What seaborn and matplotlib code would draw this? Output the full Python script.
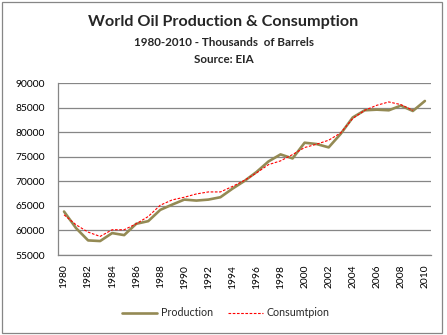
import numpy as np
import pandas as pd
import matplotlib
matplotlib.use("Agg")
import matplotlib.pyplot as plt
import seaborn as sns
from matplotlib.patches import Rectangle

# World oil production and consumption, thousands of barrels per day
years = list(range(1980, 2011))
production = [63850, 60470, 57970, 57840, 59460, 59050, 61350, 61890, 64190, 65270,
              66280, 66080, 66280, 66760, 68500, 70070, 71900, 74050, 75480, 74660,
              77860, 77590, 76910, 79660, 83000, 84460, 84590, 84460, 85410, 84320,
              86360]
consumption_years = list(range(1980, 2010))
consumption = [63180, 61150, 59660, 58780, 60140, 60140, 61350, 62840, 65140, 66220,
               66760, 67430, 67840, 67840, 68950, 70200, 71700, 73400, 74160, 75450,
               76880, 77560, 78370, 79860, 82790, 84460, 85480, 86160, 85620, 84460]

prod_df = pd.DataFrame({"year": years, "value": production})
cons_df = pd.DataFrame({"year": consumption_years, "value": consumption})

sns.set_style("white")
plt.rcParams["font.family"] = ["Lato", "DejaVu Sans"]

fig = plt.figure(figsize=(4.47, 3.35), dpi=100)
ax = fig.add_axes([0.1298, 0.2388, 0.8342, 0.5132])

grid_color = "#868686"

sns.lineplot(data=prod_df, x="year", y="value", ax=ax, color="#948A54",
             linewidth=1.9, label="Production")
sns.lineplot(data=cons_df, x="year", y="value", ax=ax, color="#FF0000",
             linewidth=0.8, dashes=False, label="Consumtpion")
ax.lines[1].set_dashes([2.4, 1.4])

ax.set_xlim(1979.5, 2010.5)
ax.set_ylim(55000, 90000)
ax.set_yticks(np.arange(55000, 90001, 5000))
ax.set_yticklabels([str(v) for v in range(55000, 90001, 5000)], fontsize=7.4)
ax.set_xticks(years[::2])
ax.set_xticklabels([str(y) for y in years[::2]], rotation=90, fontsize=7.4)
ax.set_xlabel("")
ax.set_ylabel("")

ax.yaxis.grid(True, color=grid_color, linewidth=0.9)
ax.set_axisbelow(True)
for side in ("top", "right"):
    ax.spines[side].set_visible(False)
ax.spines["left"].set_color(grid_color)
ax.spines["bottom"].set_color(grid_color)
ax.spines["left"].set_linewidth(0.9)
ax.spines["bottom"].set_linewidth(0.9)
ax.tick_params(axis="y", length=0, pad=9.5, colors="black")
ax.tick_params(axis="x", length=0, pad=7, colors="black")

ax.legend_.remove()
handles, labels = ax.get_legend_handles_labels()
handles[1].set_dashes([2.4, 1.4])
fig.legend(handles, labels, loc="center", bbox_to_anchor=(0.505, 0.066), ncol=2,
           frameon=False, fontsize=7.7, handlelength=3.3, columnspacing=1.4,
           handletextpad=0.3)

fig.text(0.5, 0.934, "World Oil Production & Consumption", ha="center", va="center",
         fontsize=11.6, fontweight="bold")
fig.text(0.5, 0.872, "1980-2010 - Thousands  of Barrels", ha="center", va="center",
         fontsize=8.4, fontweight="bold")
fig.text(0.5, 0.821, "Source: EIA", ha="center", va="center",
         fontsize=8.4, fontweight="bold")

fig.patches.append(Rectangle((0.004, 0.006), 0.985, 0.988, transform=fig.transFigure,
                             fill=False, edgecolor=grid_color, linewidth=0.9))

fig.savefig("out.png", dpi=100)
